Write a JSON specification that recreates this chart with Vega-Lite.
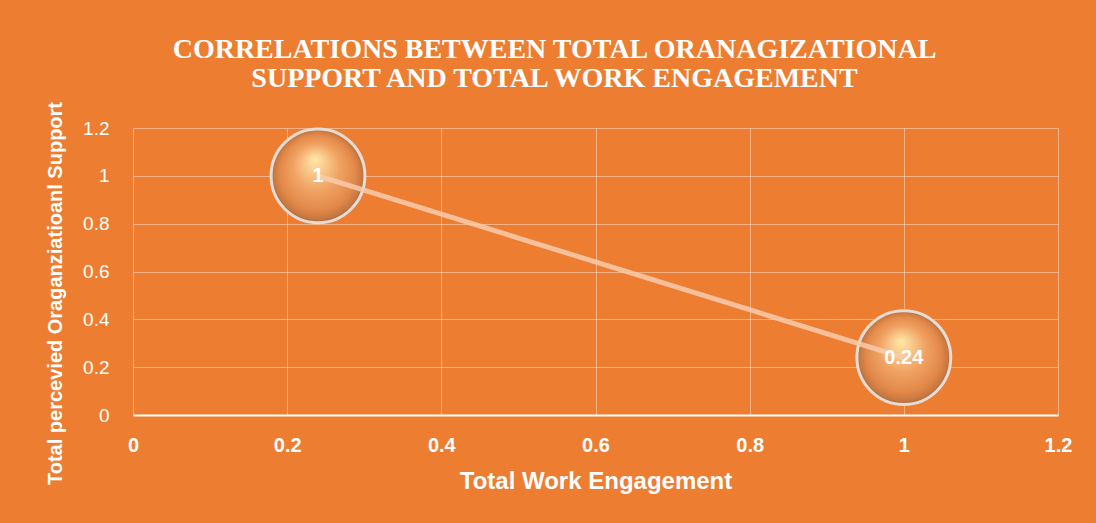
{
  "$schema": "https://vega.github.io/schema/vega-lite/v6.json",
  "width": 925,
  "height": 287,
  "autosize": {"type": "none"},
  "padding": {"left": 133, "top": 128, "right": 38, "bottom": 108},
  "background": "#ED7D31",
  "config": {"view": {"stroke": null}},
  "title": {
    "text": ["CORRELATIONS BETWEEN TOTAL ORANAGIZATIONAL", "SUPPORT AND TOTAL WORK ENGAGEMENT"],
    "font": "Liberation Serif",
    "fontSize": 28,
    "fontWeight": "bold",
    "color": "white",
    "lineHeight": 29,
    "anchor": "middle",
    "frame": "group",
    "dx": -41,
    "offset": 8
  },
  "data": {
    "values": [
      {"engagement": 0.24, "support": 1, "label": "1"},
      {"engagement": 1, "support": 0.24, "label": "0.24"}
    ]
  },
  "encoding": {
    "x": {
      "field": "engagement",
      "type": "quantitative",
      "scale": {"domain": [0, 1.2], "nice": false, "zero": true},
      "axis": {
        "title": "Total Work Engagement",
        "values": [0, 0.2, 0.4, 0.6, 0.8, 1, 1.2],
        "format": "~g",
        "labelOverlap": false,
        "grid": true,
        "gridColor": "white",
        "gridOpacity": 0.4,
        "gridWidth": 1,
        "domain": true,
        "domainColor": "white",
        "domainWidth": 2,
        "ticks": false,
        "labelFont": "Liberation Sans",
        "labelFontSize": 20,
        "labelFontWeight": "bold",
        "labelColor": "white",
        "labelPadding": 20,
        "labelBaseline": "top",
        "labelFlush": false,
        "titleFont": "Liberation Sans",
        "titleFontSize": 24,
        "titleFontWeight": "bold",
        "titleColor": "white",
        "titlePadding": 14
      }
    },
    "y": {
      "field": "support",
      "type": "quantitative",
      "scale": {"domain": [0, 1.2], "nice": false, "zero": true},
      "axis": {
        "title": "Total percevied Oraganziatioanl Support",
        "values": [0, 0.2, 0.4, 0.6, 0.8, 1, 1.2],
        "format": "~g",
        "labelOverlap": false,
        "grid": true,
        "gridColor": "white",
        "gridOpacity": 0.4,
        "gridWidth": 1,
        "domain": false,
        "ticks": false,
        "labelFont": "Liberation Sans",
        "labelFontSize": 19,
        "labelFontWeight": "normal",
        "labelColor": "white",
        "labelPadding": 24,
        "labelFlush": false,
        "titleFont": "Liberation Sans",
        "titleFontSize": 20,
        "titleFontWeight": "bold",
        "titleColor": "white",
        "titleAngle": -90,
        "titleX": -78,
        "titleY": 165,
        "titleBaseline": "middle",
        "titleAlign": "center"
      }
    }
  },
  "layer": [
    {
      "mark": {
        "type": "point",
        "shape": "circle",
        "filled": true,
        "size": 8800,
        "opacity": 1,
        "fill": {
          "gradient": "radial",
          "x1": 0.47, "y1": 0.32, "r1": 0,
          "x2": 0.5, "y2": 0.5, "r2": 0.5,
          "stops": [
            {"offset": 0, "color": "#FFE9A6"},
            {"offset": 0.22, "color": "#F9C98C"},
            {"offset": 0.5, "color": "#F0A262"},
            {"offset": 0.8, "color": "#E3894A"},
            {"offset": 0.94, "color": "#C8783F"},
            {"offset": 1, "color": "#9E6A48"}
          ]
        },
        "stroke": "#E6DCD4",
        "strokeWidth": 3
      }
    },
    {
      "mark": {"type": "line", "color": "#F8CBAD", "strokeWidth": 5, "opacity": 0.85},
      "encoding": {"order": {"field": "engagement"}}
    },
    {
      "mark": {"type": "text", "font": "Liberation Sans", "fontSize": 20, "fontWeight": "bold", "color": "white", "align": "center", "baseline": "middle"},
      "encoding": {"text": {"field": "label"}}
    }
  ]
}
